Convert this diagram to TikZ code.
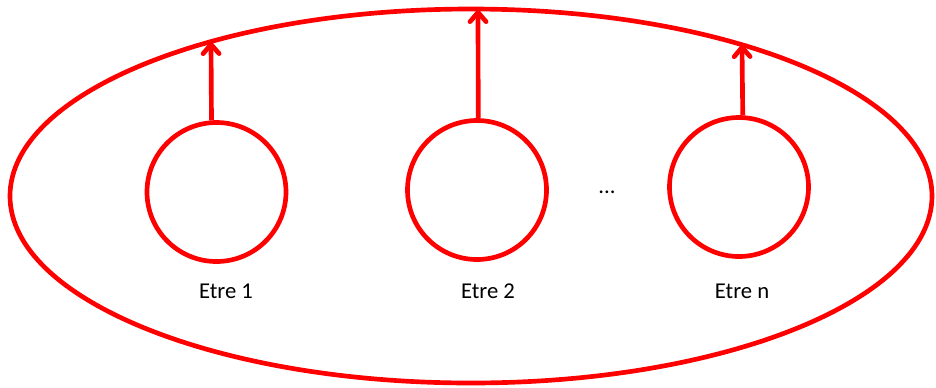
\documentclass[tikz,border=0pt]{standalone}
\usepackage{fontspec}
\setmainfont{Carlito}
\usetikzlibrary{arrows.meta,shapes.geometric}
\definecolor{pred}{RGB}{255,0,0}
\begin{document}
\begin{tikzpicture}[x=0.75pt,y=-0.75pt,
  every node/.style={inner sep=0pt},
  ring/.style={circle,draw=pred,line width=3.5pt,minimum size=104.25pt},
  outer/.style={ellipse,draw=pred,line width=3.5pt,minimum width=691.5pt,minimum height=280.5pt},
  arr/.style={draw=pred,line width=3.5pt,-{Straight Barb[length=7pt,width=12pt,line cap=round,line join=round]}},
  lbl/.style={font=\fontsize{17}{20}\selectfont,text=black}]
\useasboundingbox (0,0) rectangle (936,387);
\node[outer] (ell) at (471,196) {};
\node[ring] (c1) at (216.5,192) {};
\node[ring] (c2) at (477,190) {};
\node[ring] (c3) at (739,187) {};
\coordinate (e1) at (211,42);
\coordinate (e2) at (478,10);
\coordinate (e3) at (742,45);
\draw[arr] (c1.94.5) -- (e1);
\draw[arr] (c2.89) -- (e2);
\draw[arr] (c3.87.5) -- (e3);
\node[lbl,anchor=base] (l1) at (226,298) {Etre 1};
\node[lbl,anchor=base] (l2) at (488,298) {Etre 2};
\node[lbl,anchor=base] (l3) at (742,298) {Etre n};
\node[lbl,anchor=base] (dots) at (607,193) {...};
\end{tikzpicture}
\end{document}
